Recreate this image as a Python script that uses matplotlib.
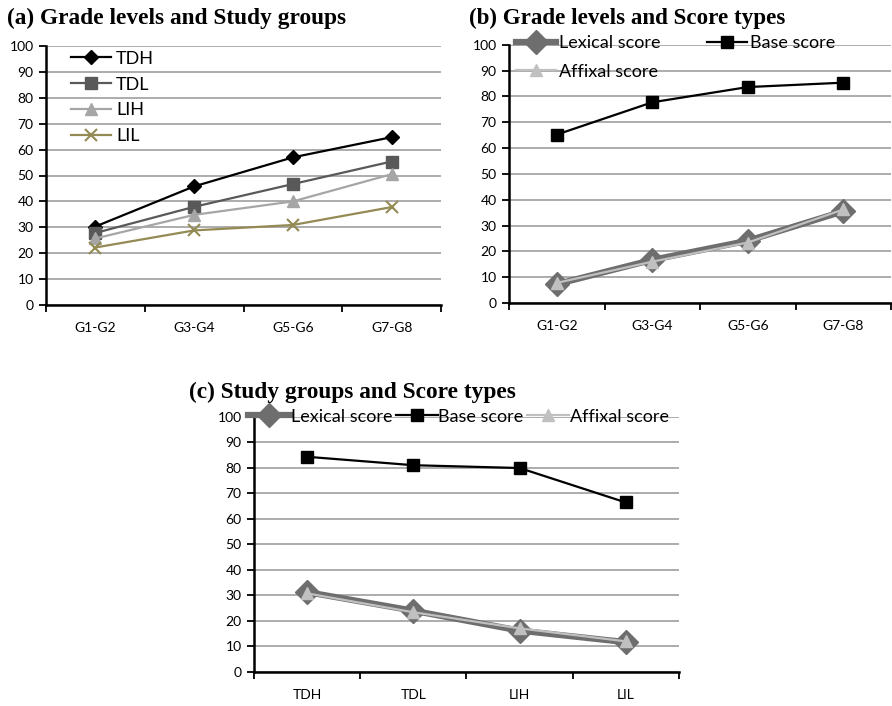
import numpy as np
import matplotlib.pyplot as plt

grades = ["G1-G2", "G3-G4", "G5-G6", "G7-G8"]
groups = ["TDH", "TDL", "LIH", "LIL"]

# (a) grade levels x study groups
tdh = [30.3, 45.8, 57.0, 64.8]
tdl = [27.8, 37.9, 46.7, 55.4]
lih = [25.7, 34.8, 40.0, 50.5]
lil = [22.2, 28.8, 30.9, 37.8]

# (b) grade levels x score types
lex_grade = [7.3, 16.7, 24.1, 35.5]
base_grade = [65.2, 77.7, 83.6, 85.3]
aff_grade = [7.8, 16.0, 23.4, 36.2]

# (c) study groups x score types
lex_group = [31.3, 24.0, 16.2, 11.7]
base_group = [84.3, 81.0, 79.9, 66.4]
aff_group = [30.8, 23.4, 17.1, 12.0]

tick_font = "Lato"
title_font = "Liberation Serif"


def setup(ax, cats):
    ax.set_xlim(0, 4)
    ax.set_ylim(0, 100)
    ax.set_yticks(np.arange(0, 101, 10))
    ax.yaxis.grid(True, color="#a6a6a6", linewidth=1.3)
    ax.set_axisbelow(True)
    ax.set_xticks(np.arange(5))
    ax.set_xticklabels([])
    ax.set_xticks(np.arange(4) + 0.5, minor=True)
    ax.set_xticklabels(cats, minor=True, fontfamily=tick_font, fontsize=10)
    ax.tick_params(axis="x", which="minor", length=0, pad=12)
    ax.tick_params(axis="x", which="major", length=5, width=1.3)
    ax.tick_params(axis="y", length=5, width=1.3, pad=4, labelsize=10)
    for lab in ax.get_yticklabels():
        lab.set_fontfamily(tick_font)
    for s in ["top", "right"]:
        ax.spines[s].set_visible(False)
    for s in ["left", "bottom"]:
        ax.spines[s].set_linewidth(1.8)


fig = plt.figure(figsize=(8.92, 7.06), dpi=100)
W, H = 892, 706


def box(l, r, t, b):
    return [l / W, 1 - b / H, (r - l) / W, (b - t) / H]


x = np.arange(4) + 0.5

# panel a
ax1 = fig.add_axes(box(46, 441, 46, 305))
setup(ax1, grades)
ax1.plot(x, tdh, color="black", marker="D", ms=7, lw=1.6, label="TDH")
ax1.plot(x, tdl, color="#595959", marker="s", ms=8, lw=1.6, label="TDL")
ax1.plot(x, lih, color="#a6a6a6", marker="^", ms=8, lw=1.6, label="LIH")
ax1.plot(x, lil, color="#948a54", marker="x", ms=8, mew=1.5, lw=1.6, label="LIL")
ax1.legend(loc="upper left", bbox_to_anchor=(0.045, 1.01), frameon=False,
           prop={"family": tick_font, "size": 13}, handlelength=2.2,
           handletextpad=0.3, labelspacing=0.55, borderaxespad=0)

# panel b
ax2 = fig.add_axes(box(509, 891, 44.7, 303))
setup(ax2, grades)
ax2.plot(x, lex_grade, color="#6e6e6e", marker="D", ms=12, lw=4.5, label="Lexical score")
ax2.plot(x, base_grade, color="black", marker="s", ms=9, lw=1.6, label="Base score")
ax2.plot(x, aff_grade, color="#c0c0c0", marker="^", ms=9, lw=1.6, label="Affixal score")
h2, l2 = ax2.get_legend_handles_labels()
ax2.legend([h2[0], h2[2], h2[1]], [l2[0], l2[2], l2[1]], ncol=2,
           loc="upper left", bbox_to_anchor=(0.0, 1.065), frameon=False,
           prop={"family": tick_font, "size": 13}, handlelength=2.2,
           handletextpad=0.15, labelspacing=0.7, columnspacing=2.6,
           borderaxespad=0)

# panel c
ax3 = fig.add_axes(box(254, 679, 416.7, 672))
setup(ax3, groups)
ax3.plot(x, lex_group, color="#6e6e6e", marker="D", ms=12, lw=4.5, label="Lexical score")
ax3.plot(x, base_group, color="black", marker="s", ms=9, lw=1.6, label="Base score")
ax3.plot(x, aff_group, color="#c0c0c0", marker="^", ms=9, lw=1.6, label="Affixal score")
ax3.legend(ncol=3, loc="upper left", bbox_to_anchor=(-0.03, 1.06), frameon=False,
           prop={"family": tick_font, "size": 13}, handlelength=2.3,
           handletextpad=0.05, columnspacing=0.2, borderaxespad=0)

fig.text(7 / W, 1 - 24 / H, "(a) Grade levels and Study groups",
         fontfamily=title_font, fontweight="bold", fontsize=16.8, va="baseline")
fig.text(469 / W, 1 - 24 / H, "(b) Grade levels and Score types",
         fontfamily=title_font, fontweight="bold", fontsize=16.6, va="baseline")
fig.text(189 / W, 1 - 398 / H, "(c) Study groups and Score types",
         fontfamily=title_font, fontweight="bold", fontsize=16.8, va="baseline")

fig.savefig("out.png", dpi=100)
